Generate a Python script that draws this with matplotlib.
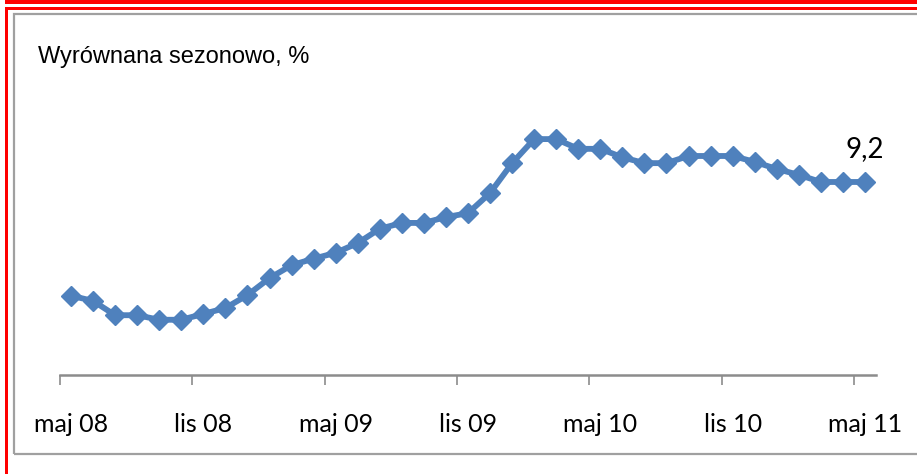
import matplotlib
matplotlib.use("Agg")
import matplotlib.pyplot as plt
from matplotlib.patches import Rectangle
from matplotlib.ticker import FixedLocator, NullFormatter

# monthly values, maj 08 .. maj 11 (seasonally adjusted, %)
values = [7.45, 7.37, 7.15, 7.15, 7.08, 7.08, 7.17, 7.26, 7.46, 7.72,
          7.92, 8.02, 8.11, 8.26, 8.48, 8.57, 8.57, 8.66, 8.72, 9.03,
          9.49, 9.86, 9.86, 9.71, 9.71, 9.58, 9.49, 9.49, 9.60, 9.60,
          9.60, 9.51, 9.40, 9.31, 9.20, 9.20, 9.20]
tick_labels = ["maj 08", "lis 08", "maj 09", "lis 09", "maj 10", "lis 10", "maj 11"]
last_label = "9,2"
title = "Wyrównana sezonowo, %"

W, H = 917, 474
BLUE = "#4F81BD"
GREY = "#8C8C8C"


def fx(px):
    return px / W


def fy(py):
    return 1 - py / H


fig = plt.figure(figsize=(W / 100, H / 100), dpi=100)

# frames (red outer lines, grey inner border)
fig.add_artist(Rectangle((fx(5), fy(4)), 1, fy(0) - fy(4), transform=fig.transFigure,
                         facecolor="#FF0000", edgecolor="none"))
fig.add_artist(Rectangle((fx(5), fy(10)), 1, 3 / H, transform=fig.transFigure,
                         facecolor="#FF0000", edgecolor="none"))
fig.add_artist(Rectangle((fx(5), 0), 3 / W, fy(7), transform=fig.transFigure,
                         facecolor="#FF0000", edgecolor="none"))
fig.add_artist(Rectangle((fx(14), fy(454)), 1, fy(14) - fy(454), transform=fig.transFigure,
                         facecolor="none", edgecolor="#A0A0A0", linewidth=1.6))

ax = fig.add_axes([fx(60), fy(375), fx(876) - fx(60), fy(97.5) - fy(375)])
ax.patch.set_alpha(0)

x = list(range(len(values)))
ax.plot(x, values, color=BLUE, linewidth=4.2, marker="D", markersize=10,
        markerfacecolor=BLUE, markeredgecolor=BLUE, solid_joinstyle="round")

ax.annotate(last_label, (x[-1], values[-1]), xytext=(0, 24), textcoords="offset points",
            ha="center", va="center", fontsize=20, family="Lato", color="black")

ax.set_xlim(-0.5, len(values) - 0.5)
ax.set_ylim(6.23, 10.5)

for s in ["top", "right", "left"]:
    ax.spines[s].set_visible(False)
ax.spines["bottom"].set_color(GREY)
ax.spines["bottom"].set_linewidth(1.8)
ax.set_yticks([])

# tick marks between categories, labels on categories
ax.xaxis.set_major_locator(FixedLocator([-0.5 + 6 * k for k in range(7)]))
ax.xaxis.set_major_formatter(NullFormatter())
ax.tick_params(axis="x", which="major", length=7.5, width=1.2, color=GREY, direction="out")
ax.xaxis.set_minor_locator(FixedLocator([6 * k for k in range(7)]))
ax.set_xticklabels(tick_labels, minor=True)
ax.tick_params(axis="x", which="minor", length=0, pad=27, labelsize=18)
for lab in ax.get_xticklabels(minor=True):
    lab.set_family("Lato")

fig.text(fx(38), fy(57), title, ha="left", va="center", fontsize=17,
         family="Liberation Sans", color="black")

fig.savefig("out.png", dpi=100)
